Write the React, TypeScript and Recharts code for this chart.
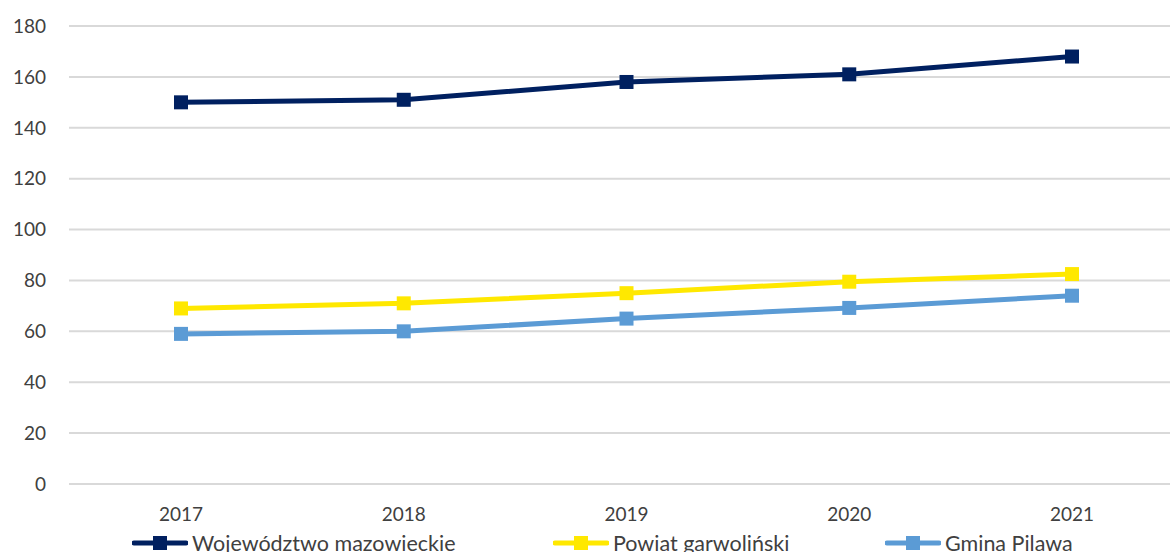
import React from 'react';
import { LineChart, Line, XAxis, YAxis, CartesianGrid, Legend } from 'recharts';

const years = ['2017', '2018', '2019', '2020', '2021'];
const mazowieckie = [150, 151, 158, 161, 168];
const garwolinski = [69, 71, 75, 79.5, 82.5];
const pilawa = [59, 60, 65, 69.2, 74];
const yTicks = [0, 20, 40, 60, 80, 100, 120, 140, 160, 180];

const SERIES = [
  { key: 'woj', name: 'Województwo mazowieckie', color: '#002060', left: 132 },
  { key: 'pow', name: 'Powiat garwoliński', color: '#FFE800', left: 553 },
  { key: 'gm', name: 'Gmina Pilawa', color: '#5B9BD5', left: 885 },
];

const data = years.map((year, i) => ({
  year,
  woj: mazowieckie[i],
  pow: garwolinski[i],
  gm: pilawa[i],
}));

const FONT = 'Lato, "Open Sans", sans-serif';
const TEXT = '#404040';

const SquareDot = (color: string) => (props: any) => {
  const { cx, cy, index } = props;
  if (cx == null || cy == null) return null;
  return <rect key={`d-${index}`} x={cx - 7} y={cy - 7} width={14} height={14} fill={color} />;
};

const LegendContent = () => (
  <div style={{ position: 'relative', height: 24, fontFamily: FONT, fontSize: 21.5, color: TEXT }}>
    {SERIES.map((s) => (
      <div key={s.key} style={{ position: 'absolute', left: s.left, top: 0, display: 'flex', alignItems: 'center', height: 24, whiteSpace: 'nowrap' }}>
        <svg width={56} height={16} style={{ marginRight: 4 }}>
          <line x1={2} y1={8} x2={54} y2={8} stroke={s.color} strokeWidth={5} strokeLinecap="round" />
          <rect x={21} y={1} width={14} height={14} fill={s.color} />
        </svg>
        <span>{s.name}</span>
      </div>
    ))}
  </div>
);

export default function App() {
  return (
    <div style={{ position: 'absolute', left: 0, top: 0, width: 1170, height: 552, overflow: 'hidden', background: '#fff' }}>
      <LineChart width={1183} height={560} data={data} margin={{ top: 26, right: 0, bottom: 5, left: 0 }}>
        <CartesianGrid vertical={false} stroke="#D9D9D9" strokeWidth={2} />
        <XAxis
          dataKey="year"
          axisLine={false}
          tickLine={false}
          tickSize={0}
          tickMargin={24}
          height={47}
          tick={{ fill: TEXT, fontSize: 19, fontFamily: FONT }}
          padding={{ left: 112, right: 111 }}
        />
        <YAxis
          domain={[0, 180]}
          ticks={yTicks}
          axisLine={false}
          tickLine={false}
          tickSize={0}
          tickMargin={23}
          width={69}
          tick={{ fill: TEXT, fontSize: 19, fontFamily: FONT }}
        />
        <Legend verticalAlign="bottom" content={<LegendContent />} />
        {SERIES.map((s) => (
          <Line
            key={s.key}
            dataKey={s.key}
            name={s.name}
            stroke={s.color}
            strokeWidth={5}
            type="linear"
            dot={SquareDot(s.color)}
            activeDot={false}
            isAnimationActive={false}
          />
        ))}
      </LineChart>
    </div>
  );
}
